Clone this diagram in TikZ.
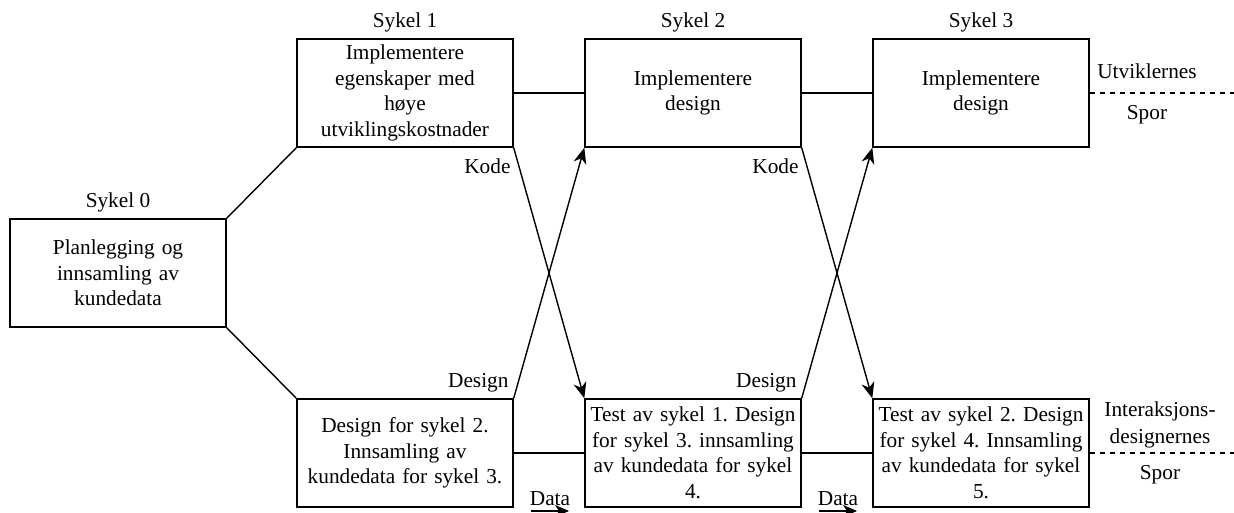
\documentclass[tikz,border=0pt]{standalone}
\usepackage{fontspec}
\setmainfont{Liberation Serif}
\usetikzlibrary{arrows.meta,calc}
\frenchspacing
\begin{document}
\begin{tikzpicture}[x=1pt,y=-1pt,
  phase/.style={draw, line width=1.4pt, minimum width=216pt, minimum height=108pt,
    text width=214pt, align=center, inner sep=0pt, font=\fontsize{21.3}{25.5}\selectfont},
  lab/.style={inner sep=0pt, font=\fontsize{21.3}{25.5}\selectfont},
  link/.style={line width=1.4pt},
  flow/.style={line width=1.4pt, -{Stealth[length=16pt, width=13pt, inset=5pt]}},
  track/.style={line width=1.4pt, dash pattern=on 5pt off 5pt}]
\useasboundingbox (0,0) rectangle (1234,513);

% cycle boxes, developers' track on top, designers' track below
\node[phase] (s0) at (118,273) {Planlegging og\\innsamling av\\kundedata};
\node[phase] (c1) at (405,93) {Implementere\\egenskaper med\\høye\\utviklingskostnader};
\node[phase] (c2) at (693,93) {Implementere\\design};
\node[phase] (c3) at (981,93) {Implementere\\design};
\node[phase] (d1) at (405,453) {Design for sykel 2.\\Innsamling av\\kundedata for sykel 3.};
\node[phase] (d2) at (693,453) {Test av sykel 1. Design\\for sykel 3. innsamling\\av kundedata for sykel\\4.};
\node[phase] (d3) at (981,453) {Test av sykel 2. Design\\for sykel 4. Innsamling\\av kundedata for sykel\\5.};

% cycle titles
\node[lab, anchor=base] (t0) at ($(s0.north)+(0,-11)$) {Sykel 0};
\node[lab, anchor=base] (t1) at ($(c1.north)+(0,-11)$) {Sykel 1};
\node[lab, anchor=base] (t2) at ($(c2.north)+(0,-11)$) {Sykel 2};
\node[lab, anchor=base] (t3) at ($(c3.north)+(0,-11)$) {Sykel 3};

% branching from the planning cycle
\draw[link] (s0.north east) -- (c1.south west);
\draw[link] (s0.south east) -- (d1.north west);

% links along each track
\draw[link] (c1.east) -- (c2.west);
\draw[link] (c2.east) -- (c3.west);
\draw[link] (d1.east) -- (d2.west);
\draw[link] (d2.east) -- (d3.west);

% hand-overs between the tracks
\draw[flow] (c1.south east) -- (d2.north west);
\draw[flow] (d1.north east) -- (c2.south west);
\draw[flow] (c2.south east) -- (d3.north west);
\draw[flow] (d2.north east) -- (c3.south west);

\node[lab, anchor=base east] (k1) at ($(c1.south east)+(-3,26)$) {Kode};
\node[lab, anchor=base east] (k2) at ($(c2.south east)+(-3,26)$) {Kode};
\node[lab, anchor=base east] (g1) at ($(d1.north east)+(-5,-11)$) {Design};
\node[lab, anchor=base east] (g2) at ($(d2.north east)+(-5,-11)$) {Design};

% data hand-overs below the designers' track
\coordinate (a1s) at (531,511);
\coordinate (a1e) at (569,511);
\coordinate (a2s) at (819,511);
\coordinate (a2e) at (857,511);
\draw[line width=1.4pt, -{Stealth[length=14pt, width=12pt, inset=4pt]}] (a1s) -- (a1e);
\draw[line width=1.4pt, -{Stealth[length=14pt, width=12pt, inset=4pt]}] (a2s) -- (a2e);
\node[lab, anchor=base] (dt1) at (550,505) {Data};
\node[lab, anchor=base] (dt2) at (838,505) {Data};

% track boundaries
\coordinate (e1) at (1234,93);
\coordinate (e2) at (1234,453);
\draw[track] (c3.east) -- (e1);
\draw[track] (d3.east) -- (e2);
\node[lab, anchor=base] (u1) at (1147,79) {Utviklernes};
\node[lab, anchor=base] (u2) at (1147,120) {Spor};
\node[lab, anchor=base] (v1) at (1160,416) {Interaksjons-};
\node[lab, anchor=base] (v1b) at (1160,443) {designernes};
\node[lab, anchor=base] (v2) at (1160,479) {Spor};
\end{tikzpicture}
\end{document}
